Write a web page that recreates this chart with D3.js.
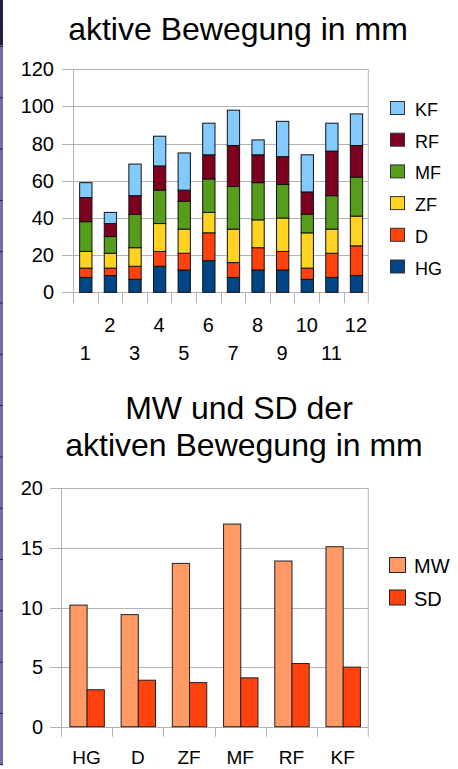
<!DOCTYPE html>
<html>
<head>
<meta charset="utf-8">
<script src="https://cdn.jsdelivr.net/npm/d3@7"></script>
<style>
  html, body { margin: 0; padding: 0; background: #fff; }
  svg { display: block; font-family: "Liberation Sans", Arial, sans-serif; }
</style>
</head>
<body>
<svg id="chart" width="458" height="769"></svg>
<script>
// Stacked series: active movement per measurement (mm)
const measurements = ["1","2","3","4","5","6","7","8","9","10","11","12"];
const seriesNames = ["HG","D","ZF","MF","RF","KF"];
const HG = [8, 9, 7, 14, 12, 17, 8, 12, 12, 7, 8, 9];
const D  = [5, 4, 7, 8, 9, 15, 8, 12, 10, 6, 13, 16];
const ZF = [9, 8, 10, 15, 13, 11, 18, 15, 18, 19, 13, 16];
const MF = [16, 9, 18, 18, 15, 18, 23, 20, 18, 10, 18, 21];
const RF = [13, 7, 10, 13, 6, 13, 22, 15, 15, 12, 24, 17];
const KF = [8, 6, 17, 16, 20, 17, 19, 8, 19, 20, 15, 17];
const topTicks = [0, 20, 40, 60, 80, 100, 120];

// Mean and standard deviation per finger
const fingers = ["HG","D","ZF","MF","RF","KF"];
const MW = [10.2, 9.4, 13.7, 17.0, 13.9, 15.1];
const SD = [3.1, 3.9, 3.7, 4.1, 5.3, 5.0];
const bottomTicks = [0, 5, 10, 15, 20];

const seriesColors = {HG:"#004586", D:"#ff420e", ZF:"#ffd320", MF:"#579d1c", RF:"#7e0021", KF:"#83caff"};
const statColors = {MW:"#ff9966", SD:"#ff420e"};

const svg = d3.select("#chart");
const gridColor = "#b3b3b3";

// Decorative frame strip along the left edge
svg.append("rect").attr("x", 0).attr("y", 0).attr("width", 3).attr("height", 765).attr("fill", "#6f6fa3");
svg.append("rect").attr("x", 0).attr("y", 0).attr("width", 3).attr("height", 45).attr("fill", "#1e1e4a");
d3.range(46, 765, 51.3).forEach(y => {
  svg.append("rect").attr("x", 0).attr("y", y).attr("width", 3).attr("height", 1).attr("fill", "#1e1e4a");
});

// ---------- Top chart: stacked bars ----------
const t = {left: 73, right: 368.3, top: 69.3, bottom: 292.3};
const xTop = d3.scaleBand().domain(measurements).range([t.left, t.right]).paddingInner(0.5).paddingOuter(0.25);
const xTopSlot = d3.scaleBand().domain(measurements).range([t.left, t.right]);
const yTop = d3.scaleLinear().domain([0, 120]).range([t.bottom, t.top]);

svg.append("text").attr("x", 238).attr("y", 40).attr("text-anchor", "middle")
  .attr("font-size", 32).attr("fill", "#000").text("aktive Bewegung in mm");

const gTop = svg.append("g");
// horizontal gridlines with outside tick stubs
gTop.selectAll("line.grid").data(topTicks).join("line")
  .attr("x1", t.left - 11).attr("x2", t.right)
  .attr("y1", d => Math.round(yTop(d)) + 0.5).attr("y2", d => Math.round(yTop(d)) + 0.5)
  .attr("stroke", gridColor).attr("stroke-width", 1);
// left axis + right border
gTop.append("line").attr("x1", t.left + 0.5).attr("x2", t.left + 0.5).attr("y1", t.top).attr("y2", t.bottom + 11)
  .attr("stroke", gridColor);
gTop.append("line").attr("x1", t.right).attr("x2", t.right).attr("y1", t.top).attr("y2", t.bottom + 11)
  .attr("stroke", gridColor);
// category separator ticks below the axis
gTop.selectAll("line.xt").data(measurements.slice(1)).join("line")
  .attr("x1", d => Math.round(xTopSlot(d)) + 0.5).attr("x2", d => Math.round(xTopSlot(d)) + 0.5)
  .attr("y1", t.bottom).attr("y2", t.bottom + 11)
  .attr("stroke", gridColor);
// y labels
gTop.selectAll("text.yl").data(topTicks).join("text")
  .attr("x", 54).attr("y", d => yTop(d)).attr("dy", "0.35em")
  .attr("text-anchor", "end").attr("font-size", 20).attr("fill", "#000").text(d => d);
// x labels staggered on two rows
gTop.selectAll("text.xl").data(measurements).join("text")
  .attr("x", d => xTop(d) + xTop.bandwidth() / 2)
  .attr("y", (d, i) => i % 2 === 1 ? 332 : 360)
  .attr("text-anchor", "middle").attr("font-size", 20).attr("fill", "#000").text(d => d);

const rows = measurements.map((m, i) => ({m, HG: HG[i], D: D[i], ZF: ZF[i], MF: MF[i], RF: RF[i], KF: KF[i]}));
const stacked = d3.stack().keys(seriesNames)(rows);
gTop.selectAll("g.layer").data(stacked).join("g")
  .attr("fill", d => seriesColors[d.key])
  .selectAll("rect").data(d => d).join("rect")
  .attr("x", d => xTop(d.data.m) + 0.5)
  .attr("width", xTop.bandwidth())
  .attr("y", d => yTop(d[1]))
  .attr("height", d => yTop(d[0]) - yTop(d[1]))
  .attr("stroke", "#111").attr("stroke-width", 1);

// legend (top series drawn first)
const legTop = svg.append("g");
seriesNames.slice().reverse().forEach((k, i) => {
  const y = 101 + i * 31.7;
  legTop.append("rect").attr("x", 390.5).attr("y", y + 0.5).attr("width", 14).attr("height", 13)
    .attr("fill", seriesColors[k]).attr("stroke", "#333");
  legTop.append("text").attr("x", 415).attr("y", y + 15).attr("font-size", 18).attr("fill", "#000").text(k);
});

// ---------- Bottom chart: grouped bars ----------
const b = {left: 61, right: 368.3, top: 488.3, bottom: 726.7};
const xB = d3.scaleBand().domain(fingers).range([b.left, b.right]).paddingInner(0.328).paddingOuter(0.164);
const xBSlot = d3.scaleBand().domain(fingers).range([b.left, b.right]);
const xSub = d3.scaleBand().domain(["MW", "SD"]).range([0, xB.bandwidth()]);
const yB = d3.scaleLinear().domain([0, 20]).range([b.bottom, b.top]);

svg.append("text").attr("x", 239).attr("y", 419).attr("text-anchor", "middle")
  .attr("font-size", 32).attr("fill", "#000").text("MW und SD der");
svg.append("text").attr("x", 244).attr("y", 456).attr("text-anchor", "middle")
  .attr("font-size", 32).attr("fill", "#000").text("aktiven Bewegung in mm");

const gB = svg.append("g");
gB.selectAll("line.grid").data(bottomTicks).join("line")
  .attr("x1", b.left - 11).attr("x2", b.right)
  .attr("y1", d => Math.round(yB(d)) + 0.5).attr("y2", d => Math.round(yB(d)) + 0.5)
  .attr("stroke", gridColor);
gB.append("line").attr("x1", b.left + 0.5).attr("x2", b.left + 0.5).attr("y1", b.top).attr("y2", b.bottom + 10)
  .attr("stroke", gridColor);
gB.append("line").attr("x1", b.right).attr("x2", b.right).attr("y1", b.top).attr("y2", b.bottom + 10)
  .attr("stroke", gridColor);
gB.selectAll("line.xt").data(fingers.slice(1)).join("line")
  .attr("x1", d => Math.round(xBSlot(d)) + 0.5).attr("x2", d => Math.round(xBSlot(d)) + 0.5)
  .attr("y1", b.bottom).attr("y2", b.bottom + 10)
  .attr("stroke", gridColor);
gB.selectAll("text.yl").data(bottomTicks).join("text")
  .attr("x", 43).attr("y", d => yB(d)).attr("dy", "0.35em")
  .attr("text-anchor", "end").attr("font-size", 20).attr("fill", "#000").text(d => d);
gB.selectAll("text.xl").data(fingers).join("text")
  .attr("x", d => xB(d) + xB.bandwidth() / 2).attr("y", 764)
  .attr("text-anchor", "middle").attr("font-size", 19).attr("fill", "#000").text(d => d);

const stats = fingers.map((f, i) => ({f, MW: MW[i], SD: SD[i]}));
gB.selectAll("g.grp").data(stats).join("g")
  .attr("transform", d => `translate(${xB(d.f)},0)`)
  .selectAll("rect").data(d => ["MW", "SD"].map(k => ({k, v: d[k]}))).join("rect")
  .attr("x", d => xSub(d.k) + 0.5)
  .attr("width", xSub.bandwidth())
  .attr("y", d => yB(d.v))
  .attr("height", d => yB(0) - yB(d.v))
  .attr("fill", d => statColors[d.k])
  .attr("stroke", "#222").attr("stroke-width", 1);

const legB = svg.append("g");
["MW", "SD"].forEach((k, i) => {
  const y = 557 + i * 32.5;
  legB.append("rect").attr("x", 389.5).attr("y", y + 0.5).attr("width", 16).attr("height", 15)
    .attr("fill", statColors[k]).attr("stroke", "#222");
  legB.append("text").attr("x", 414).attr("y", y + 16).attr("font-size", 20).attr("fill", "#000").text(k);
});
</script>
</body>
</html>
